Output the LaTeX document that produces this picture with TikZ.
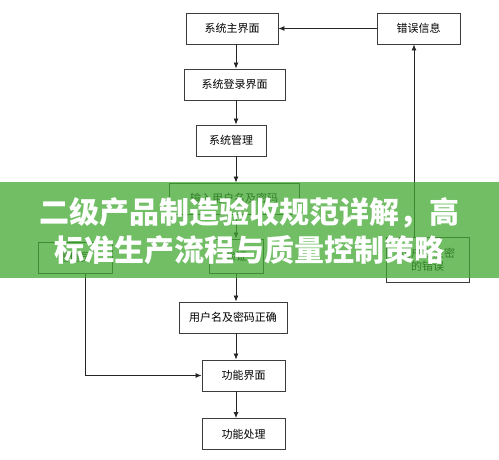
\documentclass[tikz,border=0pt]{standalone}
\usepackage{fontspec}
\setmainfont{Noto Sans CJK SC}
\usepackage{xcolor}
\usetikzlibrary{arrows.meta,positioning}
\definecolor{bannergreen}{RGB}{65,168,50}
\definecolor{boxline}{RGB}{60,60,60}
\tikzset{
  stepbox/.style={
    rectangle,
    draw=boxline,
    line width=0.9pt,
    align=center,
    minimum height=31pt,
    inner sep=2pt,
    font=\fontsize{11}{13}\selectfont
  },
  flowarrow/.style={
    -{Latex[length=6pt,width=5pt]},
    line width=0.8pt,
    draw=black!85
  },
  flowline/.style={
    line width=0.8pt,
    draw=black!85
  }
}

\begin{document}
\begin{tikzpicture}[x=1pt,y=-1pt]
\useasboundingbox (0,0) rectangle (499,460);
\coordinate (axis) at (236,0);
\coordinate (errx) at (414,0);
\coordinate (leftx) at (85,0);

\node[stepbox, minimum width=92pt] (main) at (232,28.5) {系统主界面};
\node[stepbox, minimum width=83pt] (error) at (418.5,28.5) {错误信息};
\node[stepbox, minimum width=101pt] (login) at (234.5,84.5) {系统登录界面};
\node[stepbox, minimum width=70pt] (manage) at (231,140.5) {系统管理};
\node[stepbox, minimum width=130pt] (input) at (234,198.5) {输入用户名及密码};
\node[stepbox, minimum width=74pt] (admin) at (75,257.5) {管理员};
\node[stepbox, minimum width=54pt, minimum height=34pt] (check) at (236,256) {验证};
\node[stepbox, minimum width=83pt, minimum height=45pt] (wrong) at (427.5,259.5) {用户名及密\\的错误};
\node[stepbox, minimum width=108pt] (right) at (233,317.5) {用户名及密码正确};
\node[stepbox, minimum width=83pt] (func) at (243.5,375.5) {功能界面};
\node[stepbox, minimum width=83pt] (proc) at (243.5,434) {功能处理};

\draw[flowarrow] (error.west) -- (main.east);
\draw[flowarrow] (main.south -| axis) -- (login.north -| axis);
\draw[flowarrow] (login.south -| axis) -- (manage.north -| axis);
\draw[flowarrow] (manage.south -| axis) -- (input.north -| axis);
\draw[flowarrow] (input.south -| axis) -- (check.north -| axis);
\draw[flowarrow] (check.south -| axis) -- (right.north -| axis);
\draw[flowarrow] (right.south -| axis) -- (func.north -| axis);
\draw[flowarrow] (func.south -| axis) -- (proc.north -| axis);
\draw[flowarrow] (wrong.north -| errx) -- (error.south -| errx);
\draw[flowarrow] (admin.south -| leftx) |- (func.west);

% banner over the chart
\fill[bannergreen, fill opacity=0.75] (0,182) rectangle (499,278);
\node[text=white, font=\bfseries\fontsize{30}{38}\selectfont, align=center] (banner) at (249.5,231)
  {二级产品制造验收规范详解，高\\标准生产流程与质量控制策略};
\end{tikzpicture}
\end{document}
